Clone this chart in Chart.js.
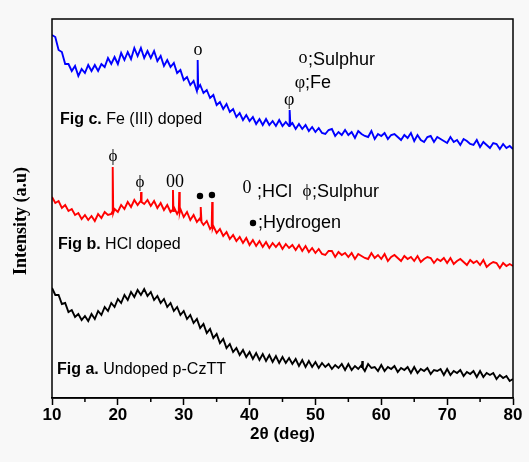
<!DOCTYPE html>
<html>
<head>
<meta charset="utf-8">
<script src="https://cdn.jsdelivr.net/npm/chart.js@4/dist/chart.umd.min.js"></script>
<style>
  html, body { margin: 0; padding: 0; background: #f8f8f8; }
  #wrap { width: 529px; height: 462px; }
</style>
</head>
<body>
<div id="wrap"><canvas id="xrd" width="529" height="462"></canvas></div>
<script>
// scan grid: 10 to 80 deg, one reading every 0.5 deg
const ANGLE_START = 10;
const ANGLE_STEP = 0.5;

// intensities (a.u., curves already stacked)
const fe3Doped = [
  363,361,348,346,334,334,327,332,322,329,
  325,333,327,333,327,334,331,340,334,341,
  334,345,338,346,339,350,342,350,340,347,
  340,347,337,342,332,338,331,335,325,328,
  318,321,313,317,307,313,305,308,300,303,
  293,296,289,294,286,289,281,285,278,283,
  277,281,274,279,273,279,273,277,272,278,
  272,276,272,275,269,274,269,273,267,271,
  266,270,265,264,268,269,262,266,263,268,
  263,266,260,267,264,262,261,267,259,264,
  262,265,259,263,264,261,258,263,260,265,
  257,263,258,256,261,262,256,261,259,257,
  255,261,256,258,253,259,257,254,253,258,
  251,256,253,250,255,254,249,254,250,252,
  249
];
const hclDoped = [
  201,195,197,190,193,187,189,183,185,179,
  183,178,182,177,184,180,186,183,184,189,
  186,193,189,196,191,198,193,199,194,198,
  192,197,190,195,188,193,186,191,184,189,
  181,186,178,183,176,180,173,177,169,172,
  165,169,162,166,159,163,157,161,155,160,
  153,158,152,157,151,156,150,155,151,155,
  149,154,150,153,148,153,147,152,146,150,
  145,149,144,143,147,147,141,146,143,145,
  141,145,139,144,142,140,139,145,140,143,
  139,144,137,141,143,140,137,142,139,141,
  137,142,136,139,141,140,135,139,137,140,
  135,140,134,137,139,136,133,138,135,137,
  133,138,131,134,136,135,130,135,132,134,
  132
];
const undoped = [
  110,103,103,94,95,86,88,81,84,78,
  82,77,84,79,87,83,91,87,95,91,
  99,95,103,98,106,101,108,103,109,102,
  106,98,102,95,99,91,95,87,91,83,
  87,79,83,75,79,70,74,65,69,60,
  64,55,59,50,54,46,50,43,48,41,
  46,39,45,38,44,37,43,36,42,35,
  41,35,40,34,39,32,38,31,37,31,
  36,30,35,31,34,29,33,30,34,28,
  34,28,32,29,33,27,34,30,31,27,
  33,27,31,29,32,26,30,28,31,25,
  31,25,29,27,30,24,28,27,29,23,
  29,23,27,25,28,22,26,24,27,21,
  27,21,25,23,25,19,23,20,22,17,
  19
];

// sharp reflections: [angle, intensity]
const fe3Peaks = [[32.05, 309], [32.12, 338], [32.2, 310], [46.05, 274], [46.12, 288], [46.2, 273]];
const hclPeaks = [
  [19.15, 186], [19.22, 231], [19.3, 185],
  [23.45, 197], [23.52, 206], [23.6, 196],
  [28.3, 188], [28.37, 208], [28.44, 187],
  [29.25, 187], [29.32, 206], [29.4, 186],
  [32.55, 177], [32.62, 191], [32.7, 176],
  [34.25, 171], [34.32, 196], [34.4, 170]
];
const undopedPeaks = [[57.05, 30], [57.12, 37], [57.2, 30]];

const xMin = 10, xMax = 80;
const minorTicks = [15, 25, 35, 45, 55, 65, 75];

const SERIF = "'Liberation Serif', 'Times New Roman', serif";
const SANS = "'Liberation Sans', Arial, sans-serif";

function buildSeries(values, peaks) {
  const pts = values.map((v, i) => ({ x: ANGLE_START + i * ANGLE_STEP, y: v }));
  peaks.forEach(p => pts.push({ x: p[0], y: p[1] }));
  return pts.sort((a, b) => a.x - b.x);
}

const bgPlugin = {
  id: 'bg',
  beforeDraw(chart) {
    const ctx = chart.ctx;
    ctx.save();
    ctx.fillStyle = '#f8f8f8';
    ctx.fillRect(0, 0, chart.width, chart.height);
    ctx.restore();
  }
};

const decoPlugin = {
  id: 'deco',
  afterDraw(chart) {
    const ctx = chart.ctx;
    const xs = chart.scales.x, ys = chart.scales.y;
    const a = chart.chartArea;
    const px = v => xs.getPixelForValue(v);
    const py = v => ys.getPixelForValue(v);

    ctx.save();
    // frame
    ctx.strokeStyle = '#000';
    ctx.lineWidth = 1.5;
    ctx.strokeRect(a.left, a.top, a.right - a.left, a.bottom - a.top);
    // minor ticks
    minorTicks.forEach(t => {
      ctx.beginPath();
      ctx.moveTo(px(t), a.bottom);
      ctx.lineTo(px(t), a.bottom + 4);
      ctx.stroke();
    });

    ctx.fillStyle = '#000';
    ctx.textBaseline = 'middle';
    const txt = (s, x, y, font, align) => {
      ctx.font = font;
      ctx.textAlign = align || 'center';
      ctx.fillText(s, px(x), py(y));
    };
    const figLabel = (bold, rest, x, y) => {
      ctx.font = 'bold 16px ' + SANS;
      ctx.textAlign = 'left';
      ctx.fillText(bold, px(x), py(y));
      const w = ctx.measureText(bold).width;
      ctx.font = '16px ' + SANS;
      ctx.fillText(rest, px(x) + w, py(y));
    };
    const dot = (x, y) => {
      ctx.beginPath();
      ctx.arc(px(x), py(y), 3.2, 0, Math.PI * 2);
      ctx.fill();
    };

    // Fe (III) doped
    txt('o', 32.17, 348, '18px ' + SERIF);
    txt('φ', 46.0, 298, '18px ' + SERIF);
    txt('o', 48.1, 340, '18px ' + SERIF);
    txt(';Sulphur', 48.87, 338, '18px ' + SANS, 'left');
    txt('φ', 47.65, 315, '18px ' + SERIF);
    txt(';Fe', 48.41, 315, '18px ' + SANS, 'left');
    figLabel('Fig c.', ' Fe (III) doped', 11.21, 278);

    // HCl doped
    txt('ϕ', 19.26, 241, '17px ' + SERIF);
    txt('ϕ', 23.36, 215, '17px ' + SERIF);
    txt('00', 28.68, 216, '18px ' + SERIF);
    dot(32.47, 202);
    dot(34.29, 203);
    txt('0', 39.6, 210, '18px ' + SERIF);
    txt(';HCl', 41.13, 206, '18px ' + SANS, 'left');
    txt('ϕ', 48.72, 206, '17px ' + SERIF);
    txt(';Sulphur', 49.48, 206, '18px ' + SANS, 'left');
    dot(40.52, 175);
    txt(';Hydrogen', 41.28, 175, '18px ' + SANS, 'left');
    figLabel('Fig b.', ' HCl doped', 10.91, 153);

    // undoped
    figLabel('Fig a.', ' Undoped p-CzTT', 10.76, 28);

    // y title
    ctx.translate(21, 221);
    ctx.rotate(-Math.PI / 2);
    ctx.font = 'bold 18px ' + SERIF;
    ctx.textAlign = 'center';
    ctx.fillText('Intensity (a.u)', 0, 0);
    ctx.restore();
  }
};

new Chart(document.getElementById('xrd'), {
  type: 'line',
  data: {
    datasets: [
      { label: 'Fe (III) doped', data: buildSeries(fe3Doped, fe3Peaks), borderColor: '#0000ff' },
      { label: 'HCl doped', data: buildSeries(hclDoped, hclPeaks), borderColor: '#ff0000' },
      { label: 'Undoped p-CzTT', data: buildSeries(undoped, undopedPeaks), borderColor: '#000000' }
    ]
  },
  options: {
    responsive: false,
    animation: false,
    layout: { padding: { top: 19, right: 16, left: 0, bottom: 0 } },
    elements: {
      line: { borderWidth: 1.9, tension: 0, fill: false, borderJoinStyle: 'miter' },
      point: { radius: 0, hoverRadius: 0 }
    },
    plugins: { legend: { display: false }, tooltip: { enabled: false } },
    scales: {
      x: {
        type: 'linear',
        min: xMin,
        max: xMax,
        afterFit: s => { s.height = 64; },
        border: { display: true, color: '#000', width: 1.5 },
        grid: { drawOnChartArea: false, drawTicks: true, tickLength: 7, tickColor: '#000', tickWidth: 1.5 },
        ticks: { stepSize: 10, padding: 0, maxRotation: 0, color: '#000', font: { family: SANS, size: 17, weight: 'bold' } },
        title: { display: true, text: '2θ (deg)', color: '#000', padding: { top: 0, bottom: 17 }, font: { family: SANS, size: 17, weight: 'bold' } }
      },
      y: {
        min: 0,
        max: 379,
        afterFit: s => { s.width = 52; },
        border: { display: false },
        grid: { display: false },
        ticks: { display: false }
      }
    }
  },
  plugins: [bgPlugin, decoPlugin]
});
</script>
</body>
</html>
